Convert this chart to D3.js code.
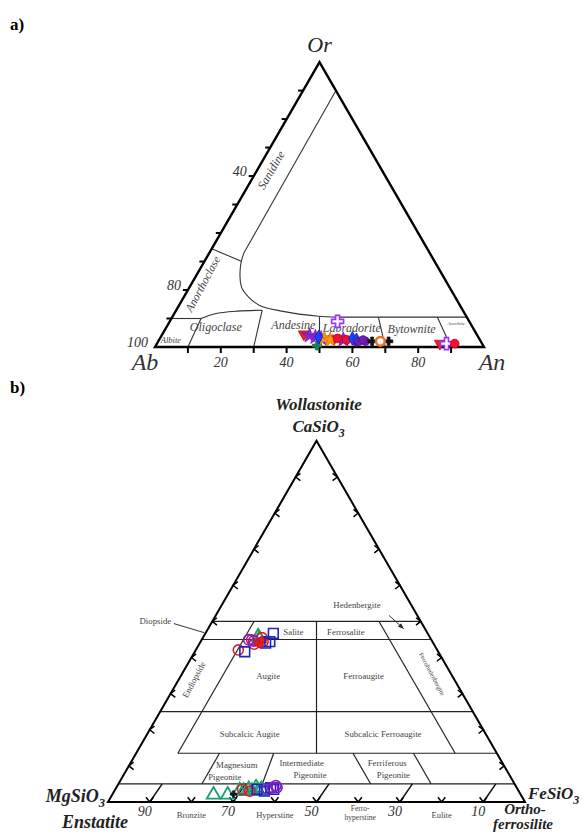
<!DOCTYPE html>
<html><head><meta charset="utf-8">
<script src="https://cdn.jsdelivr.net/npm/d3@7"></script>
<style>body{margin:0;background:#fff} svg{display:block} text{font-family:"Liberation Serif","Tinos","DejaVu Serif",serif}</style>
</head><body>
<svg id="c" width="582" height="832"></svg>
<script>
// ---------------- DATA ----------------
// Panel a: feldspar ternary (An fraction, Or fraction; Ab = remainder)
const plagAn = [0.43,0.53,0.55,0.86, 0.45,0.47,0.49,0.56, 0.49, 0.51,0.88, 0.50,0.52, 0.54,0.57,0.905,0.60, 0.585,0.48,0.60, 0.61,0.63,0.62, 0.65,0.70, 0.675];
const plagOr = [0.045,0.03,0.03,0.012, 0.04,0.035,0.03,0.025, 0.005, 0.09,0.012, 0.03,0.025, 0.03,0.025,0.012,0.02, 0.03,0.035,0.025, 0.02,0.02,0.025, 0.02,0.02, 0.02];
const plagGroup = ['A','A','A','A','B','B','B','B','C','D','D','E','E','F','F','F','F','G','G','G','H','H','H','I','I','J'];
const abTickValues = [10,20,30,40,50,60,70,80,90];       // ticks on both axes
const anTickLabels = [20,40,60,80];                       // An % below base
const abTickLabels = [100,80,40];                          // Ab % along left edge
const plagFields = ['Albite','Oligoclase','Andesine','Labradorite','Bytownite','Anorthite'];
const plagFieldAn = [0.036,0.15,0.382,0.565,0.748,0.874];
const plagFieldOr = [0.025,0.07,0.077,0.066,0.064,0.082];
const plagRays = [0.1,0.3,0.5,0.7,0.9];                    // An/(An+Ab) boundaries
const plagRayTopOr = [0.10,0.129,0.105,0.105,0.105];
// boundary curves [An, Or]
const sanidineLine = [[0.1,0.9],[0.105,0.33]];
const sanidineCurve = [[0.105,0.33],[0.119,0.281],[0.158,0.21],[0.197,0.175],[0.245,0.146],[0.322,0.126],[0.443,0.108],[0.5,0.105]];
const plagTopLine = [[0.5,0.105],[0.895,0.105]];
const anorthoclaseLine = [[0,0.345],[0.114,0.30]];
const albiteTopLine = [[0,0.10],[0.09,0.10]];
const oligoclaseTop = [[0.09,0.10],[0.124,0.117],[0.187,0.126],[0.261,0.129]];

// Panel b: pyroxene ternary (Wo fraction, Fs fraction; En = remainder)
const pyxWo = [0.458,0.452, 0.449,0.444,0.421,0.455,0.437, 0.467,0.444,0.416,0.44, 0.449,0.446, 0.449,0.44,0.435,
               0.02,0.02,0.03,0.03,0.035,0.03,0.035,0.04,0.032, 0.035,0.03, 0.035,0.03,0.04,0.035, 0.04,0.04,0.035,0.045, 0.022];
const pyxFs = [0.131,0.137, 0.12,0.15,0.102,0.142,0.132, 0.163,0.166,0.12,0.158, 0.113,0.127, 0.144,0.138,0.148,
               0.243,0.277,0.31,0.33,0.35,0.345,0.32,0.335,0.30, 0.305,0.325, 0.34,0.36,0.37,0.38, 0.375,0.385,0.365,0.38, 0.29];
const pyxGroup = ['G','G','R','R','R','R','R','B','B','B','B','P','P','Rf','Rf','Rf',
                  'G','G','G','G','G','G','G','G','G','R','R','B','B','B','B','P','P','P','P','K'];
const woTickValues = [10,20,30,40,50,60,70,80,90];
const enTickLabels = [90,70,50,30,10];
const opxNames = ['Bronzite','Hyperstine','Ferro-|hyperstine','Eulite'];
const opxNameEn = [80,60,40,20];
const pyxFields = ['Hedenbergite','Diopside','Salite','Ferrosalite','Augite','Ferroaugite','Subcalcic Augite','Subcalcic Ferroaugite','Magnesium','Pigeonite','Intermediate','Pigeonite','Ferriferous','Pigeonite'];
const pyxFieldWo = [0.546,0.501,0.471,0.471,0.348,0.348,0.1875,0.189,0.102,0.07,0.107,0.0748,0.107,0.0748];
const pyxFieldFs = [0.324,-0.137,0.209,0.335,0.21,0.439,0.246,0.565,0.258,0.245,0.411,0.447,0.616,0.647];
const pyxRotFields = ['Endiopside','Ferrohedenbergite'];
const pyxRotWo = [0.335,0.352];
const pyxRotFs = [0.045,0.596];
// boundary lines [Wo, Fs]
const pyxLines = [
  [[0.5,0],[0.5,0.5]], [[0.45,0],[0.45,0.55]], [[0.25,0],[0.25,0.75]],
  [[0.135,0.1],[0.135,0.865]], [[0.05,0],[0.05,0.95]],
  [[0.5,0.1],[0.135,0.1]], [[0.5,0.25],[0.135,0.4325]], [[0.5,0.4],[0.135,0.765]],
  [[0.135,0.2],[0.05,0.2]], [[0.135,0.33],[0.05,0.345]], [[0.135,0.52],[0.05,0.605]], [[0.135,0.665],[0.05,0.75]]
];
const opxLineFs = [0.1,0.3,0.5,0.7,0.9];
const diopsideLeader = [[0.494,-0.089],[0.469,-0.004]];
const hedenbergiteArrow = [[0.517,0.415],[0.48,0.469]];

// ---------------- SETUP ----------------
const svg = d3.select('#c');
const SQ = Math.sqrt(3)/2;
const SERIF = '"Liberation Serif","Tinos","DejaVu Serif",serif';
const axA = d3.scaleLinear().domain([0,1]).range([155,484]);
const ayA = d3.scaleLinear().domain([0,1]).range([347, 347 - 329*SQ]);
const pA = (an, or) => [axA(an + or/2), ayA(or)];
const axB = d3.scaleLinear().domain([0,1]).range([108,525]);
const ayB = d3.scaleLinear().domain([0,1]).range([802, 802 - 417*SQ]);
const pB = (wo, fs) => [axB(fs + wo/2), ayB(wo)];
const line = d3.line();
const curve = d3.line().curve(d3.curveCatmullRom.alpha(0.5));

function text(g, x, y, s, o) {
  o = o || {};
  const t = g.append('text').attr('x', x).attr('y', y)
    .style('font-family', SERIF).attr('font-size', o.size || 10)
    .attr('font-style', o.italic ? 'italic' : 'normal')
    .attr('font-weight', o.bold ? 'bold' : 'normal')
    .attr('text-anchor', o.anchor || 'middle')
    .attr('fill', o.fill || '#111');
  if (o.rotate) t.attr('transform', `rotate(${o.rotate},${x},${y})`);
  if (o.sub) {
    t.append('tspan').text(s);
    t.append('tspan').attr('dy', o.size*0.3).attr('font-size', o.size*0.7).text(o.sub);
  } else t.text(s);
  return t;
}

// panel labels
text(svg, 10, 30, 'a)', {size:17, bold:true, anchor:'start', fill:'#000'});
text(svg, 10, 393, 'b)', {size:17, bold:true, anchor:'start', fill:'#000'});

// ---------------- PANEL A ----------------
const ga = svg.append('g');
const lineStyleA = sel => sel.attr('fill','none').attr('stroke','#333').attr('stroke-width',1.1);
[sanidineLine, plagTopLine, anorthoclaseLine, albiteTopLine].forEach(l =>
  ga.append('path').attr('d', line(l.map(d => pA(d[0], d[1])))).call(lineStyleA));
[sanidineCurve, oligoclaseTop].forEach(l =>
  ga.append('path').attr('d', curve(l.map(d => pA(d[0], d[1])))).call(lineStyleA));
plagRays.forEach((r, i) => {
  const top = plagRayTopOr[i];
  ga.append('path').attr('d', line([pA(r, 0), pA(r*(1-top), top)])).call(lineStyleA);
});
ga.append('path').attr('d', line([pA(0,0), pA(1,0), pA(0,1)]) + 'Z')
  .attr('fill','none').attr('stroke','#000').attr('stroke-width',2.4).attr('stroke-linejoin','miter');
abTickValues.forEach(v => {
  const [x, y] = pA(v/100, 0);
  ga.append('line').attr('x1',x).attr('x2',x).attr('y1',y).attr('y2',y+6).attr('stroke','#000').attr('stroke-width',2);
  const [lx, ly] = pA(0, v/100);
  ga.append('line').attr('x1',lx).attr('x2',lx-5).attr('y1',ly).attr('y2',ly).attr('stroke','#000').attr('stroke-width',2);
});
anTickLabels.forEach(v => {
  const [x, y] = pA(v/100, 0);
  text(ga, x, y+20, v, {size:14, italic:true, fill:'#333'});
});
abTickLabels.forEach(v => {
  const [x, y] = pA(0, 1 - v/100);
  text(ga, x-7, y, v, {size:14, italic:true, anchor:'end', fill:'#333'});
});
{ const [x,y] = pA(0,1); text(ga, x, y-10, 'Or', {size:22, italic:true, fill:'#222'}); }
{ const [x,y] = pA(0,0); text(ga, x-10, y+23, 'Ab', {size:24, italic:true, fill:'#333'}); }
{ const [x,y] = pA(1,0); text(ga, x+8, y+23, 'An', {size:24, italic:true, fill:'#333'}); }
const plagFieldSize = [8.5, 12, 12, 12, 12, 4.5];
plagFields.forEach((f, i) => {
  const [x, y] = pA(plagFieldAn[i], plagFieldOr[i]);
  text(ga, x, y + plagFieldSize[i]*0.35, f, {size: plagFieldSize[i], italic:true, fill:'#444'});
});
{ const [x,y] = pA(0.1, 0.6); text(ga, x-12, y-4, 'Sanidine', {size:12, italic:true, fill:'#444', rotate:-60}); }
{ const [x,y] = pA(0.045, 0.215); text(ga, x+1, y, 'Anorthoclase', {size:11.5, italic:true, fill:'#444', rotate:-62}); }

const plagStyle = {
  A: {shape: d3.symbolTriangle, rot:180, fill:'#e8202a', stroke:'#c01020', size:55},
  B: {shape: d3.symbolStar, fill:'#8a2be2', stroke:'#6a1bb2', size:70},
  C: {shape: d3.symbolCross, fill:'#1b7f4f', stroke:'#1b7f4f', size:45},
  D: {shape: d3.symbolCross, fill:'#fff', stroke:'#9b30ff', size:80, sw:1.6},
  E: {shape: d3.symbolStar, fill:'#ff9a10', stroke:'#e07000', size:65},
  F: {shape: d3.symbolCircle, fill:'#ee1133', stroke:'#c00020', size:60},
  G: {shape: d3.symbolDiamond, fill:'#2040ff', stroke:'#1020c0', size:55},
  H: {shape: d3.symbolCircle, fill:'#6a1fb0', stroke:'#4a0f90', size:55},
  I: {shape: d3.symbolCross, fill:'#111', stroke:'#111', size:40},
  J: {shape: d3.symbolCircle, fill:'#fff', stroke:'#f07020', size:60, sw:2.5}
};
plagAn.forEach((an, i) => {
  const st = plagStyle[plagGroup[i]];
  const [x, y] = pA(an, plagOr[i]);
  ga.append('path').attr('d', d3.symbol().type(st.shape).size(st.size)())
    .attr('transform', `translate(${x},${y}) rotate(${st.rot||0})`)
    .attr('fill', st.fill).attr('stroke', st.stroke).attr('stroke-width', st.sw || 0.8);
});

// ---------------- PANEL B ----------------
const gb = svg.append('g');
pyxLines.forEach(l => gb.append('path').attr('d', line(l.map(d => pB(d[0], d[1]))))
  .attr('fill','none').attr('stroke','#222').attr('stroke-width',1.2));
opxLineFs.forEach(fs => gb.append('path').attr('d', line([pB(0, fs), pB(0.05, fs + 0.005)]))
  .attr('fill','none').attr('stroke','#111').attr('stroke-width',1.5));
gb.append('path').attr('d', line([pB(0,0), pB(0,1), pB(1,0)]) + 'Z')
  .attr('fill','none').attr('stroke','#000').attr('stroke-width',2).attr('stroke-linejoin','miter');
function chevron(x, y, ang) {
  const a = ang * Math.PI/180, L = 6, s = 38 * Math.PI/180;
  const p1 = [x + L*Math.cos(a+s), y + L*Math.sin(a+s)];
  const p2 = [x + L*Math.cos(a-s), y + L*Math.sin(a-s)];
  gb.append('path').attr('d', line([p1, [x,y], p2])).attr('fill','none')
    .attr('stroke','#000').attr('stroke-width',1.5);
}
woTickValues.forEach(v => {
  const [lx, ly] = pB(v/100, 0); chevron(lx, ly, 0);
  const [rx, ry] = pB(v/100, 1 - v/100); chevron(rx, ry, 180);
  const [bx, by] = pB(0, v/100); chevron(bx, by, -90);
});
enTickLabels.forEach(v => {
  const [x, y] = pB(0, 1 - v/100);
  text(gb, x - 5, y + 14, v, {size:14, italic:true, fill:'#333'});
});
opxNames.forEach((n, i) => {
  const [x, y] = pB(0, 1 - opxNameEn[i]/100);
  const parts = n.split('|');
  if (parts.length === 1) text(gb, x, y + 16, n, {size:8.5, fill:'#444'});
  else { text(gb, x + 2, y + 9, parts[0], {size:7.5, fill:'#444'}); text(gb, x + 2, y + 18, parts[1], {size:7.5, fill:'#444'}); }
});
pyxFields.forEach((f, i) => {
  const [x, y] = pB(pyxFieldWo[i], pyxFieldFs[i]);
  text(gb, x, y + 3, f, {size:8.8, fill:'#444'});
});
pyxRotFields.forEach((f, i) => {
  const [x, y] = pB(pyxRotWo[i], pyxRotFs[i]);
  text(gb, x, y, f, {size: i === 0 ? 8.8 : 6.5, fill:'#444', rotate: i === 0 ? -62 : 62});
});
gb.append('path').attr('d', line(diopsideLeader.map(d => pB(d[0], d[1]))))
  .attr('fill','none').attr('stroke','#333').attr('stroke-width',1);
{
  const pts = hedenbergiteArrow.map(d => pB(d[0], d[1]));
  gb.append('path').attr('d', line(pts)).attr('fill','none').attr('stroke','#333').attr('stroke-width',1);
  const [x1,y1] = pts[0], [x2,y2] = pts[1];
  const a = Math.atan2(y2-y1, x2-x1);
  const h = [[x2,y2],[x2-6*Math.cos(a-0.4), y2-6*Math.sin(a-0.4)],[x2-6*Math.cos(a+0.4), y2-6*Math.sin(a+0.4)]];
  gb.append('path').attr('d', line(h)+'Z').attr('fill','#222');
}
{ const [x,y] = pB(1,0); 
  text(gb, x+2, y-31, 'Wollastonite', {size:17, bold:true, italic:true, fill:'#222'});
  text(gb, x+2, y-9, 'CaSiO', {size:17, bold:true, italic:true, fill:'#222', sub:'3'}); }
{ const [x,y] = pB(0,0);
  text(gb, x-3, y, 'MgSiO', {size:18, bold:true, italic:true, anchor:'end', fill:'#222', sub:'3'});
  text(gb, x+20, y+26, 'Enstatite', {size:18, bold:true, italic:true, anchor:'end', fill:'#222'}); }
{ const [x,y] = pB(0,1);
  text(gb, x+3, y-3, 'FeSiO', {size:17, bold:true, italic:true, anchor:'start', fill:'#222', sub:'3'});
  text(gb, x, y+12, 'Ortho-', {size:15, bold:true, italic:true, fill:'#222'});
  text(gb, x-2, y+27, 'ferrosilite', {size:15, bold:true, italic:true, fill:'#222'}); }

const pyxStyle = {
  G: {shape: d3.symbolTriangle, fill:'none', stroke:'#1aa071', size:80, sw:1.8},
  R: {shape: d3.symbolCircle, fill:'none', stroke:'#d81e2a', size:80, sw:1.6},
  B: {shape: d3.symbolSquare, fill:'none', stroke:'#1d22c8', size:95, sw:1.6},
  P: {shape: d3.symbolCircle, fill:'none', stroke:'#7b1fc4', size:85, sw:1.6},
  Rf: {shape: d3.symbolCircle, fill:'#e0202a', stroke:'#b01020', size:30, sw:0.8},
  K: {shape: d3.symbolCross, fill:'#111', stroke:'#111', size:25, sw:0.5}
};
pyxWo.forEach((wo, i) => {
  const st = pyxStyle[pyxGroup[i]];
  const [x, y] = pB(wo, pyxFs[i]);
  gb.append('path').attr('d', d3.symbol().type(st.shape).size(st.size)())
    .attr('transform', `translate(${x},${y})`)
    .attr('fill', st.fill).attr('stroke', st.stroke).attr('stroke-width', st.sw);
});
</script>
</body></html>
